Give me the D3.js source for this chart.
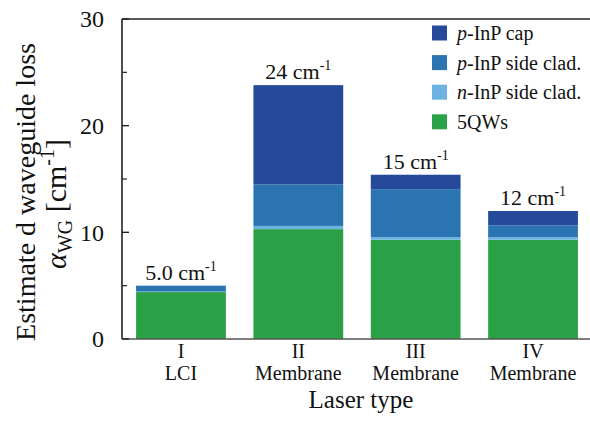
<!DOCTYPE html>
<html>
<head>
<meta charset="utf-8">
<script src="https://cdn.jsdelivr.net/npm/d3@7"></script>
<style>
  html, body { margin: 0; padding: 0; background: #fff; }
  svg { display: block; }
</style>
</head>
<body>
<svg id="chart" width="590" height="428"></svg>
<script>
// Laser types (roman numeral + structure)
const laserTypes = ["I", "II", "III", "IV"];
const laserNames = ["LCI", "Membrane", "Membrane", "Membrane"];

// Loss contributions per laser type [cm^-1], stacked bottom to top
const qwLoss      = [4.40, 10.30, 9.30, 9.30];
const nSideLoss   = [0.05, 0.30, 0.25, 0.25];
const pSideLoss   = [0.55, 3.90, 4.50, 1.10];
const pCapLoss    = [0.00, 9.30, 1.35, 1.35];

// Total loss labels
const totalLabels = ["5.0", "24", "15", "12"];

// Axis ticks
const yMajorTicks = [0, 10, 20, 30];
const yMinorTicks = [5, 15, 25];

const layers = [
  { key: "qw",    name: "5QWs",               values: qwLoss,    color: "#2aa147" },
  { key: "nside", name: "n-InP side clad.",   values: nSideLoss, color: "#6cb3e1" },
  { key: "pside", name: "p-InP side clad.",   values: pSideLoss, color: "#2a74b2" },
  { key: "pcap",  name: "p-InP cap",          values: pCapLoss,  color: "#264a9a" }
];

const FONT = "'Liberation Serif', 'Times New Roman', Times, serif";
const svg = d3.select("#chart");
const plotL = 122, plotR = 592, plotT = 19, plotB = 339;

const x = d3.scaleBand().domain(laserTypes).range([plotL, plotR]).paddingInner(0.235).paddingOuter(0.12);
const y = d3.scaleLinear().domain([0, 30]).range([plotB, plotT]);

function txt(g) {
  return g.append("text").attr("font-family", FONT).attr("fill", "#111");
}

// stacked data
const rows = laserTypes.map((t, i) => {
  const r = { type: t };
  layers.forEach(l => r[l.key] = l.values[i]);
  return r;
});
const stack = d3.stack().keys(layers.map(l => l.key));
const series = stack(rows);

// bars
const gBars = svg.append("g");
series.forEach((s, li) => {
  gBars.selectAll(null).data(s).enter().append("rect")
    .attr("x", d => x(d.data.type))
    .attr("width", x.bandwidth())
    .attr("y", d => y(d[1]))
    .attr("height", d => Math.max(0, y(d[0]) - y(d[1])))
    .attr("fill", layers[li].color);
});

// totals above bars
rows.forEach((r, i) => {
  const total = layers.reduce((a, l) => a + r[l.key], 0);
  const t = txt(svg)
    .attr("x", x(r.type) + x.bandwidth() / 2)
    .attr("y", y(total) - 6)
    .attr("text-anchor", "middle")
    .attr("font-size", 22);
  t.append("tspan").text(totalLabels[i] + " cm");
  t.append("tspan").attr("dy", -9).attr("font-size", 14).text("-1");
});

// axes lines
svg.append("line").attr("x1", plotL).attr("x2", plotL).attr("y1", plotT).attr("y2", plotB)
  .attr("stroke", "#222").attr("stroke-width", 1.6);
svg.append("line").attr("x1", plotL).attr("x2", 590).attr("y1", plotT).attr("y2", plotT)
  .attr("stroke", "#222").attr("stroke-width", 1.6);
svg.append("line").attr("x1", plotL).attr("x2", 590).attr("y1", plotB).attr("y2", plotB)
  .attr("stroke", "#555").attr("stroke-width", 1.6);

// y ticks (inward)
const yAxis = svg.append("g");
yMajorTicks.forEach(v => {
  yAxis.append("line").attr("x1", plotL).attr("x2", plotL + 7).attr("y1", y(v)).attr("y2", y(v))
    .attr("stroke", "#222").attr("stroke-width", 1.4);
  txt(yAxis).attr("x", 104).attr("y", y(v)).attr("dy", "0.35em")
    .attr("text-anchor", "end").attr("font-size", 24).text(v);
});
yMinorTicks.forEach(v => {
  yAxis.append("line").attr("x1", plotL).attr("x2", plotL + 5).attr("y1", y(v)).attr("y2", y(v))
    .attr("stroke", "#222").attr("stroke-width", 1.2);
});

// x tick labels
laserTypes.forEach((t, i) => {
  const cx = x(t) + x.bandwidth() / 2;
  txt(svg).attr("x", cx).attr("y", 358).attr("text-anchor", "middle")
    .attr("font-size", 20).text(t);
  txt(svg).attr("x", cx).attr("y", 380).attr("text-anchor", "middle")
    .attr("font-size", 20).text(laserNames[i]);
});

// axis titles
txt(svg).attr("x", 361).attr("y", 408).attr("text-anchor", "middle")
  .attr("font-size", 25).text("Laser type");

txt(svg).attr("transform", "translate(35,192) rotate(-90)")
  .attr("text-anchor", "middle").attr("font-size", 28)
  .text("Estimate d waveguide loss");
const yt2 = txt(svg).attr("transform", "translate(66,204) rotate(-90)")
  .attr("text-anchor", "middle").attr("font-size", 30);
yt2.append("tspan").attr("font-style", "italic").text("α");
yt2.append("tspan").attr("dy", 6).attr("font-size", 20).text("WG");
yt2.append("tspan").attr("dy", -6).text(" [cm");
yt2.append("tspan").attr("dy", -12).attr("font-size", 20).text("-1");
yt2.append("tspan").attr("dy", 12).text("]");

// legend (top to bottom: cap, p-side, n-side, QWs)
const legendItems = layers.slice().reverse();
const lg = svg.append("g");
legendItems.forEach((l, i) => {
  const cy = 33 + i * 29.6;
  lg.append("rect").attr("x", 432).attr("y", cy - 7.5).attr("width", 15).attr("height", 15).attr("fill", l.color);
  const t = txt(lg).attr("x", 457).attr("y", cy).attr("dy", "0.35em")
    .attr("font-size", 20);
  if (l.key === "pside" || l.key === "pcap") {
    t.append("tspan").attr("font-style", "italic").text("p");
    t.append("tspan").text(l.name.slice(1));
  } else if (l.key === "nside") {
    t.append("tspan").attr("font-style", "italic").text("n");
    t.append("tspan").text(l.name.slice(1));
  } else {
    t.text(l.name);
  }
});
</script>
</body>
</html>
